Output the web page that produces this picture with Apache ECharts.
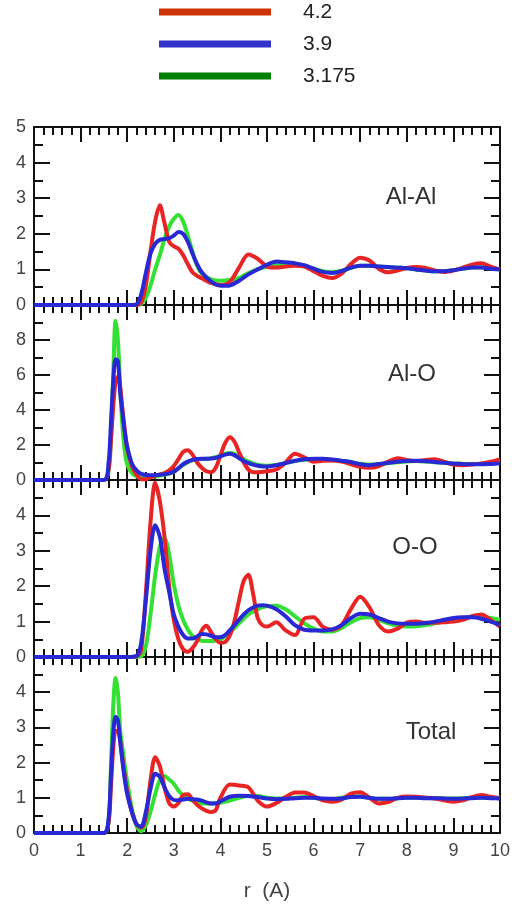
<!DOCTYPE html>
<html>
<head>
<meta charset="utf-8">
<script src="https://cdn.jsdelivr.net/npm/echarts@6/dist/echarts.min.js"></script>
<style>
  html, body { margin: 0; padding: 0; background: #fff; }
  #chart { width: 512px; height: 909px; }
</style>
</head>
<body>
<div id="chart"></div>
<script>
// Radial distribution functions g(r) for three densities (g/cm^3)
const seriesNames = ['4.2', '3.9', '3.175'];
const panelNames = ['Al-Al', 'Al-O', 'O-O', 'Total'];

// ---- Al-Al ----
const rAlAl = [0, 2.0, 2.2, 2.3, 2.4, 2.5, 2.6, 2.7, 2.8, 2.9, 3.0, 3.1, 3.2, 3.3, 3.4, 3.5, 3.6,
  3.8, 4.0, 4.2, 4.4, 4.6, 4.8, 5.0, 5.2, 5.4, 5.6, 5.8, 6.0, 6.2, 6.4, 6.6, 6.8, 7.0, 7.2, 7.4,
  7.6, 7.8, 8.0, 8.2, 8.4, 8.6, 8.8, 9.0, 9.2, 9.4, 9.6, 9.8, 10.0];
const alAl_42 = [0, 0, 0, 0.08, 0.55, 1.5, 2.35, 2.8, 2.3, 1.78, 1.65, 1.58, 1.4, 1.15, 0.92, 0.82, 0.75,
  0.62, 0.56, 0.65, 1.05, 1.42, 1.3, 1.08, 1.05, 1.08, 1.1, 1.08, 0.95, 0.82, 0.76, 0.88, 1.15, 1.33,
  1.25, 1.02, 0.92, 0.97, 1.04, 1.07, 1.04, 0.97, 0.93, 0.97, 1.05, 1.13, 1.17, 1.08, 1.0];
const alAl_39 = [0, 0, 0.02, 0.3, 0.9, 1.45, 1.72, 1.83, 1.85, 1.88, 1.95, 2.05, 2.0, 1.78, 1.45, 1.15, 0.92,
  0.66, 0.54, 0.55, 0.68, 0.86, 1.0, 1.13, 1.22, 1.2, 1.17, 1.12, 1.02, 0.93, 0.9, 0.95, 1.05, 1.1,
  1.1, 1.08, 1.07, 1.05, 1.03, 1.0, 0.97, 0.95, 0.95, 0.98, 1.02, 1.05, 1.05, 1.02, 1.0];
const alAl_3175 = [0, 0, 0, 0.03, 0.2, 0.55, 1.0, 1.4, 1.85, 2.2, 2.42, 2.53, 2.35, 1.95, 1.5, 1.1, 0.88,
  0.72, 0.68, 0.7, 0.76, 0.9, 1.0, 1.08, 1.14, 1.16, 1.15, 1.1, 1.02, 0.95, 0.92, 0.96, 1.04, 1.1,
  1.1, 1.08, 1.06, 1.05, 1.03, 1.0, 0.97, 0.95, 0.95, 0.98, 1.02, 1.05, 1.06, 1.03, 1.0];

// ---- Al-O ----
const rAlO = [0, 1.5, 1.6, 1.65, 1.7, 1.75, 1.8, 1.85, 1.9, 1.95, 2.0,
  2.1, 2.2, 2.3, 2.4, 2.5, 2.6, 2.7, 2.8, 2.9, 3.0, 3.1, 3.2, 3.3, 3.4, 3.5, 3.6, 3.7, 3.8, 3.9, 4.0,
  4.1, 4.2, 4.3, 4.4, 4.5, 4.6, 4.7, 4.8,
  5.0, 5.2, 5.4, 5.6, 5.8, 6.0, 6.2, 6.4, 6.6, 6.8, 7.0, 7.2, 7.4, 7.6, 7.8, 8.0, 8.2, 8.4, 8.6, 8.8,
  9.0, 9.2, 9.4, 9.6, 9.8, 10.0];
const alO_42 = [0, 0, 0.6, 2.2, 4.2, 5.6, 5.9, 5.3, 4.0, 2.8, 1.8,
  0.8, 0.3, 0.05, 0.05, 0.15, 0.25, 0.32, 0.4, 0.55, 0.8, 1.2, 1.6, 1.7, 1.45, 1.0, 0.7, 0.5, 0.45, 0.7, 1.4,
  2.1, 2.45, 2.2, 1.6, 1.0, 0.6, 0.45, 0.45,
  0.5, 0.6, 1.0, 1.5, 1.3, 1.05, 1.1, 1.12, 1.05, 0.9, 0.75, 0.7, 0.8, 1.05, 1.25, 1.15, 1.08, 1.15, 1.18, 1.05,
  0.88, 0.85, 0.88, 0.95, 1.05, 1.18];
const alO_39 = [0, 0, 1.0, 3.2, 5.6, 6.9, 6.8, 5.0, 3.8, 2.7, 1.9,
  0.95, 0.55, 0.35, 0.28, 0.27, 0.28, 0.3, 0.33, 0.38, 0.47, 0.68, 0.9, 1.05, 1.15, 1.2, 1.22, 1.22, 1.23, 1.27, 1.35,
  1.45, 1.5, 1.42, 1.25, 1.08, 0.96, 0.88, 0.82,
  0.77, 0.85, 0.97, 1.1, 1.18, 1.22, 1.22, 1.17, 1.1, 1.03, 0.9, 0.85, 0.92, 0.98, 1.04, 1.08, 1.1, 1.07, 1.03, 0.98,
  0.94, 0.91, 0.9, 0.9, 0.92, 0.95];
const alO_3175 = [0, 0, 0.5, 2.5, 6.0, 9.1, 8.0, 5.2, 3.0, 1.6, 0.9,
  0.4, 0.2, 0.15, 0.15, 0.17, 0.2, 0.25, 0.3, 0.37, 0.47, 0.65, 0.86, 1.02, 1.12, 1.18, 1.2, 1.22, 1.25, 1.3, 1.4,
  1.5, 1.55, 1.5, 1.35, 1.2, 1.05, 0.95, 0.88,
  0.82, 0.86, 0.96, 1.08, 1.15, 1.18, 1.18, 1.14, 1.08, 1.02, 0.93, 0.88, 0.9, 0.96, 1.02, 1.06, 1.08, 1.05, 1.02, 0.98,
  0.95, 0.93, 0.92, 0.93, 0.95, 0.98];

// ---- O-O ----
const rOO = [0, 2.0,
  2.2, 2.3, 2.4, 2.5, 2.6, 2.7, 2.8, 2.9, 3.0, 3.1, 3.2, 3.3, 3.4, 3.5, 3.6, 3.7, 3.8, 3.9, 4.0,
  4.1, 4.2, 4.3, 4.4, 4.5, 4.6, 4.7, 4.8, 4.9, 5.0,
  5.2, 5.4, 5.6, 5.8, 6.0, 6.2, 6.4, 6.6, 6.8, 7.0, 7.2, 7.4, 7.6, 7.8, 8.0, 8.2, 8.4, 8.6, 8.8,
  9.0, 9.2, 9.4, 9.6, 9.8, 10.0];
const oo_42 = [0, 0,
  0.02, 0.2, 1.8, 3.8, 4.92, 4.4, 3.4, 2.0, 1.05, 0.5, 0.22, 0.15, 0.25, 0.45, 0.75, 0.88, 0.7, 0.5, 0.4,
  0.42, 0.6, 1.0, 1.6, 2.15, 2.32, 1.8, 1.1, 0.9, 0.86,
  0.98, 0.75, 0.62, 1.08, 1.12, 0.85, 0.77, 0.9, 1.35, 1.7, 1.4, 0.9, 0.72, 0.8, 0.97, 1.0, 0.97, 0.97, 0.98,
  1.0, 1.05, 1.15, 1.2, 1.05, 0.86];
const oo_39 = [0, 0,
  0.03, 0.4, 1.6, 3.0, 3.72, 3.4, 2.5, 1.85, 1.2, 0.85, 0.62, 0.52, 0.52, 0.58, 0.65, 0.64, 0.6, 0.56, 0.56,
  0.62, 0.75, 0.9, 1.05, 1.2, 1.32, 1.4, 1.45, 1.46, 1.45,
  1.35, 1.15, 0.9, 0.77, 0.75, 0.75, 0.78, 0.9, 1.1, 1.22, 1.2, 1.1, 1.0, 0.95, 0.94, 0.94, 0.96, 1.0, 1.05,
  1.1, 1.12, 1.12, 1.08, 1.0, 0.9];
const oo_3175 = [0, 0,
  0, 0.02, 0.3, 1.2, 2.3, 3.1, 3.35, 2.9, 2.05, 1.45, 1.05, 0.78, 0.6, 0.5, 0.46, 0.45, 0.45, 0.47, 0.5,
  0.58, 0.7, 0.82, 0.95, 1.08, 1.2, 1.28, 1.35, 1.4, 1.43,
  1.45, 1.35, 1.15, 0.95, 0.8, 0.72, 0.72, 0.82, 0.98, 1.1, 1.12, 1.05, 0.95, 0.88, 0.86, 0.87, 0.9, 0.95, 1.0,
  1.05, 1.1, 1.14, 1.15, 1.1, 1.05];

// ---- Total ----
const rTot = [0, 1.5, 1.6, 1.65, 1.7, 1.75, 1.8, 1.85, 1.9, 1.95, 2.0,
  2.1, 2.2, 2.3, 2.4, 2.5, 2.6, 2.7, 2.8, 2.9, 3.0, 3.1, 3.2, 3.3, 3.4, 3.5, 3.6, 3.7, 3.8, 3.9, 4.0,
  4.2, 4.4, 4.6, 4.8, 5.0, 5.2, 5.4, 5.6, 5.8, 6.0, 6.2, 6.4, 6.6, 6.8, 7.0, 7.2, 7.4, 7.6, 7.8, 8.0,
  8.2, 8.4, 8.6, 8.8, 9.0, 9.2, 9.4, 9.6, 9.8, 10.0];
const tot_42 = [0, 0, 0.3, 1.3, 2.4, 2.9, 2.9, 2.6, 2.1, 1.6, 1.2,
  0.6, 0.25, 0.15, 0.45, 1.5, 2.15, 1.9, 1.3, 0.85, 0.75, 0.85, 1.08, 1.1, 0.95, 0.8, 0.7, 0.63, 0.6, 0.65, 1.0,
  1.38, 1.35, 1.3, 0.92, 0.75, 0.85, 1.02, 1.15, 1.15, 1.05, 0.93, 0.89, 0.95, 1.12, 1.16, 1.0, 0.84, 0.88, 1.0, 1.04,
  1.03, 1.0, 0.98, 0.93, 0.89, 0.93, 1.02, 1.08, 1.03, 0.98];
const tot_39 = [0, 0, 0.4, 1.6, 2.8, 3.3, 3.2, 2.6, 2.0, 1.5, 1.1,
  0.6, 0.25, 0.18, 0.6, 1.25, 1.68, 1.6, 1.3, 1.05, 0.94, 0.93, 0.95, 0.97, 0.96, 0.95, 0.92, 0.87, 0.84, 0.84, 0.9,
  1.03, 1.06, 1.05, 1.02, 0.98, 0.96, 0.97, 0.99, 1.0, 1.0, 0.98, 0.97, 0.98, 1.02, 1.03, 1.0, 0.97, 0.97, 0.99, 1.0,
  1.0, 0.99, 0.99, 0.98, 0.97, 0.98, 0.99, 1.0, 0.99, 0.98];
const tot_3175 = [0, 0, 0.3, 1.8, 3.6, 4.4, 4.0, 2.9, 2.4, 1.9, 1.45,
  0.7, 0.2, 0.05, 0.22, 0.6, 1.1, 1.5, 1.62, 1.52, 1.4, 1.2, 1.07, 0.97, 0.92, 0.87, 0.84, 0.84, 0.84, 0.85, 0.86,
  0.92, 1.0, 1.05, 1.05, 1.0, 0.98, 0.98, 1.0, 1.02, 1.0, 0.96, 0.96, 1.0, 1.04, 1.04, 1.0, 0.97, 0.97, 0.99, 1.0,
  1.0, 1.0, 0.99, 0.98, 0.98, 0.99, 1.0, 1.01, 1.0, 1.0];

const panelData = [
  { r: rAlAl, y: [alAl_42, alAl_39, alAl_3175] },
  { r: rAlO,  y: [alO_42, alO_39, alO_3175] },
  { r: rOO,   y: [oo_42, oo_39, oo_3175] },
  { r: rTot,  y: [tot_42, tot_39, tot_3175] }
];

// ---- styling / layout ----
const FONT = "'Liberation Sans', Arial, Helvetica, sans-serif";
const lineColors = ['#e82424', '#2828d4', '#33e033'];
const legendColors = ['#cc3300', '#3333cc', '#008000'];
const INK = '#111';
const LABEL = '#444';
const panels = [
  { top: 127, height: 178, yMax: 5,  yStep: 1, showMax: true,  label: [411, 197] },
  { top: 305, height: 175, yMax: 10, yStep: 2, showMax: false, label: [412, 374] },
  { top: 480, height: 177, yMax: 5,  yStep: 1, showMax: false, label: [415, 547] },
  { top: 657, height: 176, yMax: 5,  yStep: 1, showMax: false, label: [431, 732] }
];

const grids = [], xAxes = [], yAxes = [], series = [], graphics = [];

function axisCommon(majorLen, minorLen, minorSplit) {
  return {
    axisLine: { show: true, onZero: false, lineStyle: { color: INK, width: 2 } },
    axisTick: { show: true, inside: true, length: majorLen, lineStyle: { color: INK, width: 2 } },
    minorTick: { show: true, splitNumber: minorSplit, length: minorLen, lineStyle: { color: INK, width: 2 } },
    splitLine: { show: false },
    minorSplitLine: { show: false }
  };
}

panels.forEach((p, i) => {
  grids.push({ left: 34, right: 12, top: p.top, height: p.height, outerBoundsMode: 'none', containLabel: false });
  const last = i === panels.length - 1;
  ['bottom', 'top'].forEach((pos) => {
    const showLab = last && pos === 'bottom';
    xAxes.push(Object.assign({
      type: 'value', gridIndex: i, position: pos, min: 0, max: 10, interval: 1,
      axisLabel: { show: showLab, fontSize: 18, color: LABEL, fontFamily: FONT, margin: 9 },
      name: showLab ? 'r  (A)' : '',
      nameLocation: 'middle', nameGap: 48,
      nameTextStyle: { fontSize: 21, color: LABEL, fontFamily: FONT }
    }, axisCommon(15, 8, 5)));
  });
  ['left', 'right'].forEach((pos) => {
    yAxes.push(Object.assign({
      type: 'value', gridIndex: i, position: pos, min: 0, max: p.yMax, interval: p.yStep,
      axisLabel: {
        show: pos === 'left', fontSize: 18, color: LABEL, fontFamily: FONT, margin: 8,
        showMaxLabel: p.showMax, showMinLabel: true
      }
    }, axisCommon(16, 9, 2)));
  });

  const d = panelData[i];
  // drawing order: 3.175 first, then 4.2, then 3.9 on top
  [2, 0, 1].forEach((k, order) => {
    series.push({
      type: 'line', name: seriesNames[k],
      xAxisIndex: 2 * i, yAxisIndex: 2 * i,
      data: d.r.map((r, j) => [r, d.y[k][j]]),
      showSymbol: false, symbol: 'none', smooth: 0.3,
      lineStyle: { color: lineColors[k], width: 4 },
      itemStyle: { color: lineColors[k] },
      z: 3 + order,
      clip: true
    });
  });

  graphics.push({
    type: 'text', x: p.label[0], y: p.label[1], z: 10,
    style: { text: panelNames[i], font: '24px ' + FONT, fill: '#333', align: 'center', verticalAlign: 'middle' }
  });
});

const chart = echarts.init(document.getElementById('chart'), null, { renderer: 'canvas' });
chart.setOption({
  animation: false,
  backgroundColor: '#fff',
  legend: {
    orient: 'vertical', left: 159, top: -6, padding: 0, itemGap: -4,
    itemWidth: 112, itemHeight: 7, icon: 'rect', selectedMode: false,
    itemStyle: { borderWidth: 0 },
    data: seriesNames.map((n, k) => ({ name: n, itemStyle: { color: legendColors[k], borderWidth: 0 } })),
    textStyle: { fontSize: 21, color: '#222', fontFamily: FONT, lineHeight: 20, padding: [16, 0, 0, 27] }
  },
  grid: grids,
  xAxis: xAxes,
  yAxis: yAxes,
  series: series,
  graphic: graphics
});
</script>
</body>
</html>
